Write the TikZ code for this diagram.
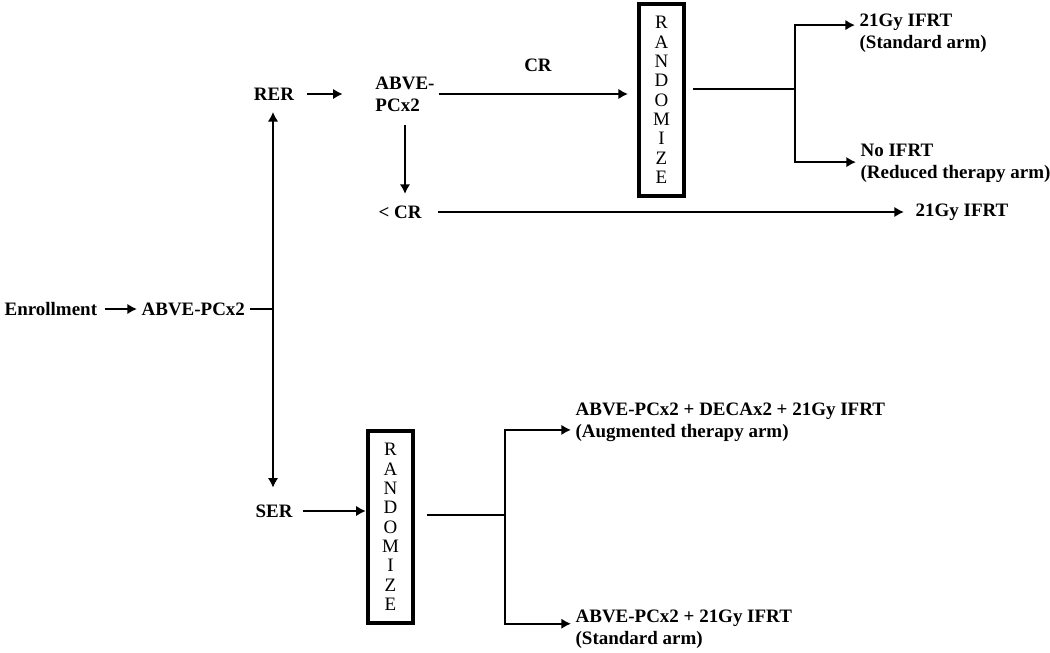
\documentclass[tikz,border=0pt]{standalone}
\usepackage{fontspec}
\setmainfont{Liberation Serif}
\usetikzlibrary{arrows.meta}

\tikzset{
	txt/.style = {font = \fontsize{10.8}{12.5}\selectfont\bfseries, inner sep = 2pt, align = left},
	randbox/.style = {draw, line width = 2.5pt, minimum width = 0.9cm, minimum height = 3.84cm,
		inner sep = 0pt, align = center, font = \fontsize{10.8}{11}\selectfont}
}

\begin{document}
\begin{tikzpicture}[> = {Latex[length = 5.5pt, width = 6pt]}, x = 0.02cm, y = -0.02cm, line width = 1.3pt]

	\useasboundingbox (0, 0) rectangle (1050, 652);

	% Enrollment and first cycles
	
	\node [txt, anchor = west] (enroll) at (0, 309) {Enrollment};
	\node [txt, anchor = west] (abvea) at (137, 309) {ABVE-PCx2};
	\coordinate (spine) at (273, 309);
	
	\draw [->, shorten <= 2pt] (enroll) -- (abvea);
	\draw (abvea) -- (spine);
	
	% Early response
	
	\node [txt] (rer) at (274, 94) {RER};
	\node [txt] (ser) at (274, 511) {SER};
	
	\draw [->, shorten > = 4pt] (spine) -- (spine |- rer.south);
	\draw [->, shorten > = 7pt] (spine) -- (spine |- ser.north);
	
	% Rapid early responders
	
	\node [txt] (abveb) at (405, 94) {ABVE-\\PCx2};
	\node [randbox] (randa) at (661.5, 100) {R\\A\\N\\D\\O\\M\\I\\Z\\E};
	\node [txt] (lesscr) at (400, 212) {< CR};
	\node [txt, anchor = west] (ifrtc) at (911, 212) {21Gy IFRT};
	
	\draw [->, shorten <= 5pt, shorten > = 16pt] (rer) -- (abveb);
	\draw [->, shorten > = 5pt] (abveb.east) -- (abveb.east -| randa.west)
		node [txt, midway, above = 10pt] (cr) {CR};
	\draw [->, shorten <= 5pt, shorten > = 4pt] (abveb) -- (abveb |- lesscr.north);
	\draw [->, shorten <= 7pt, shorten > = 4pt] (lesscr) -- (ifrtc);
	
	\coordinate (forka) at (795, 89);
	\node [txt, anchor = west] (stda) at (855, 33) {21Gy IFRT\\(Standard arm)};
	\node [txt, anchor = west] (redu) at (856, 163) {No IFRT\\(Reduced therapy arm)};
	
	\draw [shorten <= 4pt] (randa.east |- forka) -- (forka);
	\draw [->] (forka) |- ([yshift = 4.5pt] stda.west);
	\draw [->] (forka) |- ([yshift = 0.5pt] redu.west);
	
	% Slow early responders
	
	\node [randbox] (randb) at (390.5, 527) {R\\A\\N\\D\\O\\M\\I\\Z\\E};
	\coordinate (forkb) at (505, 515);
	\node [txt, anchor = west] (aug) at (571, 422) {ABVE-PCx2 + DECAx2 + 21Gy IFRT\\(Augmented therapy arm)};
	\node [txt, anchor = west] (stdb) at (571, 629) {ABVE-PCx2 + 21Gy IFRT\\(Standard arm)};
	
	\draw [->, shorten <= 3.5pt] (ser.east) -- (ser.east -| randb.west);
	\draw [shorten <= 7pt] (randb.east |- forkb) -- (forkb);
	\draw [->] (forkb) |- ([yshift = -4.5pt] aug.west);
	\draw [->] (forkb) |- ([yshift = 3pt] stdb.west);

\end{tikzpicture}
\end{document}
